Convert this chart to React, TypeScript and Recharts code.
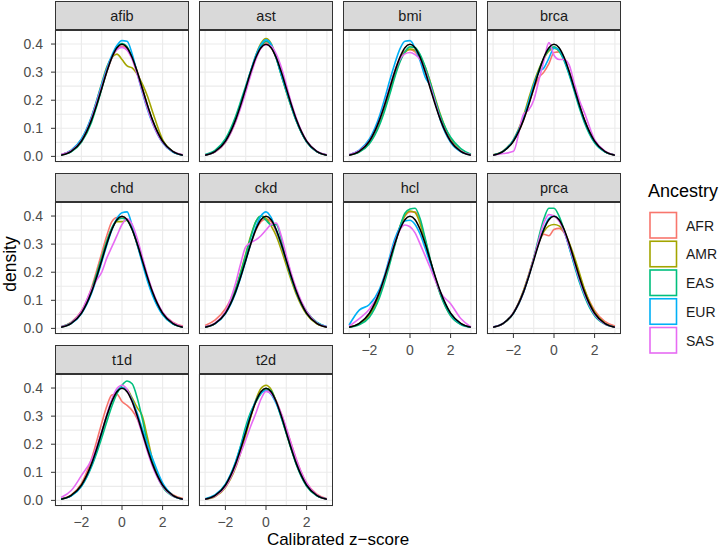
import React from 'react';
import { LineChart, Line, XAxis, YAxis, CartesianGrid } from 'recharts';

// z grid the curves are sampled on (finer near the peak)
const Z = [-3, -2.5, -2, -1.5, -1.25, -1, -0.75, -0.5, -0.25, 0, 0.25, 0.5, 0.75, 1, 1.25, 1.5, 2, 2.5, 3];

// black reference curve, same in every panel
const NORMAL = [0.004, 0.018, 0.054, 0.13, 0.183, 0.242, 0.301, 0.352, 0.387, 0.399, 0.387, 0.352, 0.301, 0.242, 0.183, 0.13, 0.054, 0.018, 0.004];

const ANCESTRY = ['AFR', 'AMR', 'EAS', 'EUR', 'SAS'] as const;
type Anc = typeof ANCESTRY[number];

const COLORS: Record<Anc, string> = {
  AFR: '#F8766D',
  AMR: '#A3A500',
  EAS: '#00BF7D',
  EUR: '#00B0F6',
  SAS: '#E76BF3',
};

const X_TICKS = [-3, -2, -1, 0, 1, 2, 3];
const X_LABELS = [-2, 0, 2];
const Y_TICKS = [0, 0.05, 0.1, 0.15, 0.2, 0.25, 0.3, 0.35, 0.4];
const Y_LABELS = [0, 0.1, 0.2, 0.3, 0.4];

const afib: Record<Anc, number[]> = {
  AFR: [0.006, 0.02, 0.056, 0.13, 0.185, 0.242, 0.3, 0.35, 0.382, 0.392, 0.384, 0.352, 0.303, 0.245, 0.183, 0.126, 0.05, 0.016, 0.005],
  AMR: [0.006, 0.021, 0.06, 0.14, 0.198, 0.26, 0.318, 0.352, 0.364, 0.345, 0.322, 0.315, 0.292, 0.258, 0.215, 0.16, 0.06, 0.018, 0.005],
  EAS: [0.005, 0.016, 0.05, 0.122, 0.178, 0.24, 0.303, 0.352, 0.39, 0.402, 0.39, 0.352, 0.298, 0.24, 0.18, 0.128, 0.052, 0.017, 0.005],
  EUR: [0.006, 0.022, 0.062, 0.142, 0.198, 0.258, 0.315, 0.36, 0.395, 0.412, 0.41, 0.365, 0.296, 0.228, 0.168, 0.118, 0.048, 0.015, 0.004],
  SAS: [0.007, 0.02, 0.055, 0.135, 0.19, 0.248, 0.305, 0.352, 0.38, 0.388, 0.378, 0.345, 0.292, 0.232, 0.172, 0.12, 0.05, 0.018, 0.006],
};

const ast: Record<Anc, number[]> = {
  AFR: [0.005, 0.017, 0.053, 0.128, 0.182, 0.242, 0.302, 0.355, 0.392, 0.405, 0.39, 0.35, 0.295, 0.238, 0.18, 0.127, 0.053, 0.017, 0.005],
  AMR: [0.005, 0.016, 0.05, 0.125, 0.18, 0.24, 0.302, 0.36, 0.402, 0.42, 0.402, 0.352, 0.29, 0.23, 0.175, 0.125, 0.052, 0.017, 0.005],
  EAS: [0.007, 0.022, 0.062, 0.142, 0.195, 0.25, 0.305, 0.352, 0.39, 0.41, 0.395, 0.35, 0.29, 0.232, 0.176, 0.125, 0.052, 0.017, 0.005],
  EUR: [0.005, 0.018, 0.055, 0.13, 0.184, 0.244, 0.305, 0.36, 0.398, 0.415, 0.4, 0.352, 0.292, 0.235, 0.178, 0.126, 0.052, 0.017, 0.005],
  SAS: [0.005, 0.016, 0.05, 0.122, 0.172, 0.228, 0.29, 0.345, 0.385, 0.398, 0.392, 0.365, 0.318, 0.255, 0.19, 0.135, 0.056, 0.019, 0.006],
};

const bmi: Record<Anc, number[]> = {
  AFR: [0.006, 0.02, 0.056, 0.13, 0.185, 0.245, 0.305, 0.35, 0.375, 0.38, 0.372, 0.345, 0.3, 0.245, 0.19, 0.135, 0.056, 0.019, 0.006],
  AMR: [0.005, 0.016, 0.048, 0.118, 0.17, 0.228, 0.29, 0.34, 0.37, 0.382, 0.378, 0.355, 0.318, 0.265, 0.205, 0.148, 0.062, 0.02, 0.006],
  EAS: [0.005, 0.015, 0.045, 0.112, 0.162, 0.22, 0.282, 0.335, 0.372, 0.39, 0.388, 0.362, 0.318, 0.262, 0.2, 0.145, 0.068, 0.028, 0.008],
  EUR: [0.006, 0.022, 0.062, 0.145, 0.205, 0.27, 0.33, 0.382, 0.41, 0.412, 0.385, 0.34, 0.282, 0.25, 0.19, 0.128, 0.05, 0.016, 0.005],
  SAS: [0.006, 0.02, 0.055, 0.13, 0.185, 0.245, 0.302, 0.345, 0.365, 0.37, 0.362, 0.345, 0.305, 0.25, 0.19, 0.132, 0.055, 0.019, 0.006],
};

const brca: Record<Anc, number[]> = {
  AFR: [0.005, 0.018, 0.055, 0.13, 0.185, 0.24, 0.28, 0.3, 0.33, 0.37, 0.372, 0.35, 0.3, 0.242, 0.183, 0.13, 0.054, 0.018, 0.005],
  AMR: [0.006, 0.02, 0.06, 0.145, 0.205, 0.262, 0.31, 0.348, 0.375, 0.385, 0.375, 0.345, 0.295, 0.238, 0.18, 0.128, 0.052, 0.017, 0.005],
  EAS: [0.005, 0.018, 0.056, 0.135, 0.19, 0.25, 0.305, 0.35, 0.38, 0.39, 0.375, 0.34, 0.29, 0.232, 0.172, 0.12, 0.048, 0.016, 0.005],
  EUR: [0.005, 0.019, 0.058, 0.138, 0.195, 0.255, 0.3, 0.315, 0.35, 0.385, 0.38, 0.345, 0.295, 0.238, 0.18, 0.127, 0.052, 0.017, 0.005],
  SAS: [0.005, 0.01, 0.018, 0.15, 0.165, 0.2, 0.27, 0.34, 0.405, 0.36, 0.345, 0.345, 0.325, 0.26, 0.2, 0.155, 0.06, 0.02, 0.005],
};

const chd: Record<Anc, number[]> = {
  AFR: [0.006, 0.022, 0.062, 0.145, 0.205, 0.268, 0.33, 0.38, 0.395, 0.395, 0.39, 0.355, 0.298, 0.24, 0.18, 0.128, 0.056, 0.022, 0.008],
  AMR: [0.005, 0.018, 0.056, 0.135, 0.192, 0.252, 0.31, 0.355, 0.38, 0.38, 0.385, 0.355, 0.3, 0.24, 0.18, 0.127, 0.052, 0.017, 0.005],
  EAS: [0.006, 0.02, 0.058, 0.138, 0.193, 0.252, 0.31, 0.358, 0.385, 0.392, 0.385, 0.352, 0.3, 0.24, 0.18, 0.126, 0.05, 0.016, 0.005],
  EUR: [0.005, 0.017, 0.052, 0.125, 0.178, 0.236, 0.296, 0.35, 0.392, 0.412, 0.415, 0.365, 0.298, 0.232, 0.17, 0.118, 0.048, 0.016, 0.005],
  SAS: [0.006, 0.02, 0.06, 0.14, 0.172, 0.2, 0.25, 0.29, 0.33, 0.37, 0.39, 0.37, 0.32, 0.255, 0.19, 0.135, 0.058, 0.02, 0.006],
};

const ckd: Record<Anc, number[]> = {
  AFR: [0.01, 0.03, 0.07, 0.142, 0.19, 0.245, 0.3, 0.35, 0.38, 0.39, 0.38, 0.345, 0.295, 0.238, 0.18, 0.128, 0.054, 0.018, 0.005],
  AMR: [0.005, 0.018, 0.058, 0.14, 0.2, 0.265, 0.33, 0.38, 0.4, 0.392, 0.365, 0.33, 0.28, 0.225, 0.17, 0.12, 0.05, 0.016, 0.005],
  EAS: [0.005, 0.018, 0.056, 0.138, 0.196, 0.26, 0.325, 0.38, 0.4, 0.385, 0.368, 0.37, 0.32, 0.245, 0.18, 0.13, 0.06, 0.022, 0.006],
  EUR: [0.005, 0.017, 0.052, 0.126, 0.18, 0.24, 0.302, 0.36, 0.4, 0.415, 0.395, 0.35, 0.298, 0.24, 0.18, 0.128, 0.055, 0.02, 0.006],
  SAS: [0.006, 0.02, 0.06, 0.16, 0.23, 0.29, 0.305, 0.315, 0.33, 0.35, 0.37, 0.375, 0.33, 0.26, 0.195, 0.14, 0.06, 0.02, 0.006],
};

const hcl: Record<Anc, number[]> = {
  AFR: [0.005, 0.015, 0.045, 0.118, 0.172, 0.235, 0.3, 0.36, 0.4, 0.415, 0.415, 0.38, 0.315, 0.242, 0.178, 0.122, 0.046, 0.015, 0.004],
  AMR: [0.005, 0.016, 0.048, 0.12, 0.175, 0.238, 0.302, 0.362, 0.402, 0.418, 0.412, 0.372, 0.31, 0.24, 0.178, 0.124, 0.048, 0.016, 0.005],
  EAS: [0.004, 0.013, 0.04, 0.11, 0.165, 0.228, 0.295, 0.36, 0.41, 0.425, 0.428, 0.39, 0.32, 0.245, 0.175, 0.12, 0.045, 0.014, 0.004],
  EUR: [0.012, 0.065, 0.085, 0.14, 0.19, 0.255, 0.318, 0.36, 0.382, 0.385, 0.37, 0.335, 0.285, 0.232, 0.178, 0.128, 0.052, 0.016, 0.004],
  SAS: [0.008, 0.035, 0.068, 0.13, 0.182, 0.245, 0.305, 0.35, 0.368, 0.362, 0.34, 0.3, 0.258, 0.215, 0.17, 0.128, 0.088, 0.035, 0.005],
};

const prca: Record<Anc, number[]> = {
  AFR: [0.005, 0.018, 0.056, 0.135, 0.19, 0.25, 0.305, 0.335, 0.33, 0.352, 0.356, 0.34, 0.3, 0.245, 0.19, 0.138, 0.064, 0.025, 0.008],
  AMR: [0.005, 0.017, 0.055, 0.135, 0.19, 0.25, 0.308, 0.345, 0.365, 0.37, 0.365, 0.345, 0.305, 0.255, 0.198, 0.14, 0.058, 0.019, 0.005],
  EAS: [0.005, 0.018, 0.054, 0.128, 0.185, 0.25, 0.325, 0.39, 0.428, 0.428, 0.4, 0.35, 0.288, 0.225, 0.165, 0.115, 0.045, 0.015, 0.005],
  EUR: [0.005, 0.018, 0.054, 0.13, 0.185, 0.245, 0.305, 0.355, 0.392, 0.4, 0.385, 0.345, 0.288, 0.228, 0.17, 0.12, 0.048, 0.016, 0.005],
  SAS: [0.005, 0.018, 0.055, 0.13, 0.186, 0.248, 0.315, 0.375, 0.405, 0.4, 0.382, 0.345, 0.292, 0.235, 0.176, 0.124, 0.05, 0.016, 0.005],
};

const t1d: Record<Anc, number[]> = {
  AFR: [0.006, 0.02, 0.06, 0.148, 0.21, 0.275, 0.335, 0.375, 0.378, 0.352, 0.338, 0.32, 0.29, 0.24, 0.18, 0.128, 0.054, 0.02, 0.007],
  AMR: [0.005, 0.018, 0.054, 0.128, 0.182, 0.24, 0.3, 0.355, 0.39, 0.402, 0.395, 0.365, 0.33, 0.3, 0.225, 0.145, 0.055, 0.018, 0.005],
  EAS: [0.005, 0.016, 0.05, 0.12, 0.168, 0.222, 0.28, 0.335, 0.38, 0.41, 0.425, 0.415, 0.365, 0.29, 0.205, 0.135, 0.048, 0.015, 0.004],
  EUR: [0.005, 0.016, 0.05, 0.125, 0.18, 0.24, 0.302, 0.355, 0.39, 0.402, 0.392, 0.358, 0.31, 0.255, 0.2, 0.15, 0.062, 0.018, 0.004],
  SAS: [0.01, 0.035, 0.088, 0.145, 0.19, 0.245, 0.305, 0.36, 0.398, 0.41, 0.395, 0.352, 0.295, 0.235, 0.175, 0.122, 0.05, 0.016, 0.005],
};

const t2d: Record<Anc, number[]> = {
  AFR: [0.005, 0.017, 0.053, 0.126, 0.18, 0.24, 0.3, 0.35, 0.382, 0.395, 0.385, 0.355, 0.308, 0.255, 0.2, 0.145, 0.062, 0.022, 0.006],
  AMR: [0.004, 0.014, 0.046, 0.116, 0.17, 0.232, 0.298, 0.358, 0.398, 0.41, 0.395, 0.352, 0.298, 0.24, 0.182, 0.13, 0.054, 0.018, 0.005],
  EAS: [0.005, 0.018, 0.055, 0.135, 0.195, 0.262, 0.315, 0.35, 0.38, 0.398, 0.39, 0.35, 0.295, 0.238, 0.18, 0.126, 0.05, 0.016, 0.005],
  EUR: [0.006, 0.02, 0.058, 0.137, 0.192, 0.25, 0.308, 0.355, 0.382, 0.39, 0.378, 0.345, 0.298, 0.242, 0.185, 0.13, 0.054, 0.018, 0.005],
  SAS: [0.004, 0.015, 0.048, 0.12, 0.168, 0.215, 0.265, 0.31, 0.36, 0.388, 0.38, 0.352, 0.31, 0.258, 0.2, 0.145, 0.062, 0.02, 0.005],
};

const PANELS: { name: string; curves: Record<Anc, number[]> }[] = [
  { name: 'afib', curves: afib },
  { name: 'ast', curves: ast },
  { name: 'bmi', curves: bmi },
  { name: 'brca', curves: brca },
  { name: 'chd', curves: chd },
  { name: 'ckd', curves: ckd },
  { name: 'hcl', curves: hcl },
  { name: 'prca', curves: prca },
  { name: 't1d', curves: t1d },
  { name: 't2d', curves: t2d },
];

const FONT = '"Liberation Sans", Arial, Helvetica, sans-serif';
const PLOT_W = 134;
const PLOT_H = 132;
const STRIP_H = 29;
const AXIS_W = 40;
const AXIS_H = 26;
const COL_STEP = 144;
const ROW_STEP = 172;
const LEFT0 = 55;
const TOP0 = 1;

const fmtX = (v: number) => (v < 0 ? '\u2212' + Math.abs(v) : String(v));

function XTick(props: any) {
  const { x, y, payload, show } = props;
  if (!show || !X_LABELS.includes(payload.value)) return <g />;
  return (
    <g>
      <line x1={x} x2={x} y1={y} y2={y + 4} stroke="#333" strokeWidth={1} />
      <text x={x} y={y + 20.5} textAnchor="middle" fontSize={14} fill="#4d4d4d" fontFamily={FONT}>
        {fmtX(payload.value)}
      </text>
    </g>
  );
}

function YTick(props: any) {
  const { x, y, payload, show } = props;
  const major = Y_LABELS.some((v) => Math.abs(v - payload.value) < 1e-9);
  if (!show || !major) return <g />;
  return (
    <g>
      <line x1={x - 4} x2={x} y1={y} y2={y} stroke="#333" strokeWidth={1} />
      <text x={x - 12} y={y + 5} textAnchor="end" fontSize={14} fill="#4d4d4d" fontFamily={FONT}>
        {payload.value.toFixed(1)}
      </text>
    </g>
  );
}

function Panel({ index }: { index: number }) {
  const panel = PANELS[index];
  const col = index % 4;
  const row = Math.floor(index / 4);
  const showY = col === 0;
  const showX = index + 4 >= PANELS.length;
  const plotLeft = LEFT0 + col * COL_STEP;
  const plotTop = TOP0 + row * ROW_STEP + STRIP_H;

  const data = Z.map((z, i) => {
    const d: Record<string, number> = { z, norm: NORMAL[i] };
    ANCESTRY.forEach((a) => {
      d[a] = panel.curves[a][i];
    });
    return d;
  });

  return (
    <div style={{ position: 'absolute', left: plotLeft - AXIS_W, top: plotTop }}>
      <LineChart
        width={AXIS_W + PLOT_W}
        height={PLOT_H + AXIS_H}
        data={data}
        margin={{ top: 0, right: 0, bottom: 0, left: 0 }}
      >
        <CartesianGrid stroke="#ebebeb" strokeWidth={1.1} />
        <XAxis
          dataKey="z"
          type="number"
          domain={[-3.3, 3.3]}
          ticks={X_TICKS}
          interval={0}
          height={AXIS_H}
          axisLine={false}
          tickLine={false}
          tickSize={0}
          tickMargin={0}
          tick={(p: any) => <XTick {...p} show={showX} />}
        />
        <YAxis
          type="number"
          domain={[-0.02, 0.45]}
          ticks={Y_TICKS}
          interval={0}
          width={AXIS_W}
          axisLine={false}
          tickLine={false}
          tickSize={0}
          tickMargin={0}
          tick={(p: any) => <YTick {...p} show={showY} />}
        />
        {ANCESTRY.map((a) => (
          <Line
            key={a}
            dataKey={a}
            type="monotone"
            stroke={COLORS[a]}
            strokeWidth={1.6}
            dot={false}
            isAnimationActive={false}
          />
        ))}
        <Line
          dataKey="norm"
          type="monotone"
          stroke="#000"
          strokeWidth={1.6}
          dot={false}
          isAnimationActive={false}
        />
      </LineChart>
    </div>
  );
}

export default function App() {
  return (
    <div
      style={{
        position: 'absolute',
        left: 0,
        top: 0,
        width: 721,
        height: 550,
        background: '#fff',
        fontFamily: FONT,
      }}
    >
      <svg width={721} height={550} style={{ position: 'absolute', left: 0, top: 0 }}>
        {PANELS.map((p, i) => {
          const col = i % 4;
          const row = Math.floor(i / 4);
          const x = LEFT0 + col * COL_STEP;
          const y = TOP0 + row * ROW_STEP;
          return (
            <g key={p.name}>
              <rect x={x + 0.5} y={y + 0.5} width={PLOT_W - 1} height={STRIP_H - 1} fill="#d9d9d9" stroke="#333" />
              <text
                x={x + PLOT_W / 2}
                y={y + STRIP_H / 2 + 5}
                textAnchor="middle"
                fontSize={14.5}
                fill="#1a1a1a"
                fontFamily={FONT}
              >
                {p.name}
              </text>
            </g>
          );
        })}
        <text
          x={338}
          y={545}
          textAnchor="middle"
          fontSize={17}
          fill="#000"
          fontFamily={FONT}
        >
          Calibrated z{'\u2212'}score
        </text>
        <text
          transform="translate(16,264) rotate(-90)"
          textAnchor="middle"
          fontSize={17.5}
          fill="#000"
          fontFamily={FONT}
        >
          density
        </text>
        <text x={648} y={197} fontSize={18} fill="#000" fontFamily={FONT}>
          Ancestry
        </text>
        {ANCESTRY.map((a, i) => (
          <g key={a}>
            <rect
              x={650}
              y={212.5 + i * 28.75}
              width={26.5}
              height={25.5}
              fill="#fff"
              stroke={COLORS[a]}
              strokeWidth={1.6}
            />
            <text
              x={686}
              y={225.5 + i * 28.75 + 5}
              fontSize={14}
              fill="#1a1a1a"
              fontFamily={FONT}
            >
              {a}
            </text>
          </g>
        ))}
      </svg>
      {PANELS.map((p, i) => (
        <Panel key={p.name} index={i} />
      ))}
      <svg width={721} height={550} style={{ position: 'absolute', left: 0, top: 0, pointerEvents: 'none' }}>
        {PANELS.map((p, i) => {
          const col = i % 4;
          const row = Math.floor(i / 4);
          const x = LEFT0 + col * COL_STEP;
          const y = TOP0 + row * ROW_STEP + STRIP_H;
          return (
            <rect
              key={p.name}
              x={x + 0.5}
              y={y + 0.5}
              width={PLOT_W - 1}
              height={PLOT_H - 1}
              fill="none"
              stroke="#333"
            />
          );
        })}
      </svg>
    </div>
  );
}
